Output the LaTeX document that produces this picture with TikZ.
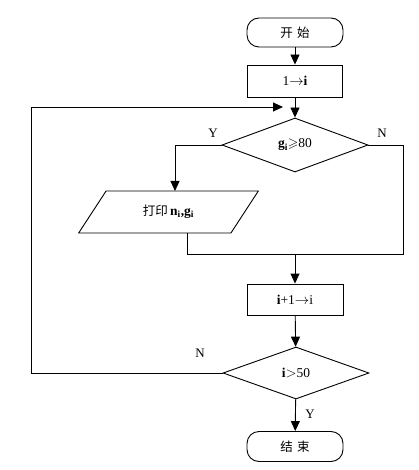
\documentclass[tikz,border=0pt]{standalone}
\usepackage{amssymb}
\usepackage{fontspec}
\setmainfont{Liberation Serif}
\newfontfamily\cjk{Noto Sans CJK SC}
\usetikzlibrary{shapes.geometric,arrows.meta}
\begin{document}
\begin{tikzpicture}[x=1pt,y=-1pt,
  line width=0.9pt,
  every node/.style={font=\fontsize{13.5}{15}\selectfont},
  arr/.style={-{Triangle[width=9pt,length=10pt]}},
  term/.style={draw,rounded corners=12pt,minimum width=96pt,minimum height=29pt,inner sep=0pt},
  proc/.style={draw,minimum width=95pt,minimum height=32pt,inner sep=0pt},
  decide/.style={draw,diamond,aspect=2.7,minimum width=146pt,minimum height=54pt,inner sep=0pt},
  io/.style={draw,trapezium,trapezium left angle=50.2,trapezium right angle=129.8,
             minimum width=181pt,minimum height=42pt,inner sep=0pt,trapezium stretches=true},
  cj/.style={font=\cjk\fontsize{12.5}{15}\selectfont},
  lbl/.style={font=\fontsize{13}{15}\selectfont}
]
\useasboundingbox (0,0) rectangle (418,470);
\node[term,cj] (start) at (295,32.5) {开\,\,始};
\node[proc] (b1) at (295,81) {1$\rightarrow$\textbf{i}};
\node[decide] (d1) at (295,145) {\textbf{g\textsubscript{i}}$\geqslant$80};
\node[io] (pr) at (168.5,212) {{\cjk\fontsize{12.5}{15}\selectfont 打印}\,\textbf{n\textsubscript{i},g\textsubscript{i}}};
\node[proc,minimum height=31pt,minimum width=96pt] (b3) at (295,299.5) {\textbf{i}+1$\rightarrow$i};
\node[decide,minimum height=52pt] (d2) at (296,373) {\textbf{i}$>$50};
\node[term,cj,minimum height=30pt] (end) at (295,446.5) {结\,\,束};

\coordinate (lt) at (31,107);
\coordinate (la) at (283,107);
\coordinate (rc) at (403,254);
\coordinate (m) at (295,254);
\coordinate (pin) at (175,191);
\coordinate (pout) at (187,233);

\draw[arr] (start) -- (b1);
\draw[arr] (b1) -- (d1);
\draw[arr] (d1.west) -| (pin);
\draw (d1.east) -| (rc) -- (rc -| pout) -- (pout);
\draw[arr] (m) -- (b3);
\draw[arr] (b3) -- (d2);
\draw[arr] (d2) -- (end);
\draw[arr] (d2.west) -| (lt) -- (la);

\node[lbl] (ly1) at (213,133) {Y};
\node[lbl] (ln1) at (382,133) {N};
\node[lbl] (ln2) at (200,353) {N};
\node[lbl] (ly2) at (310,414) {Y};
\end{tikzpicture}
\end{document}
